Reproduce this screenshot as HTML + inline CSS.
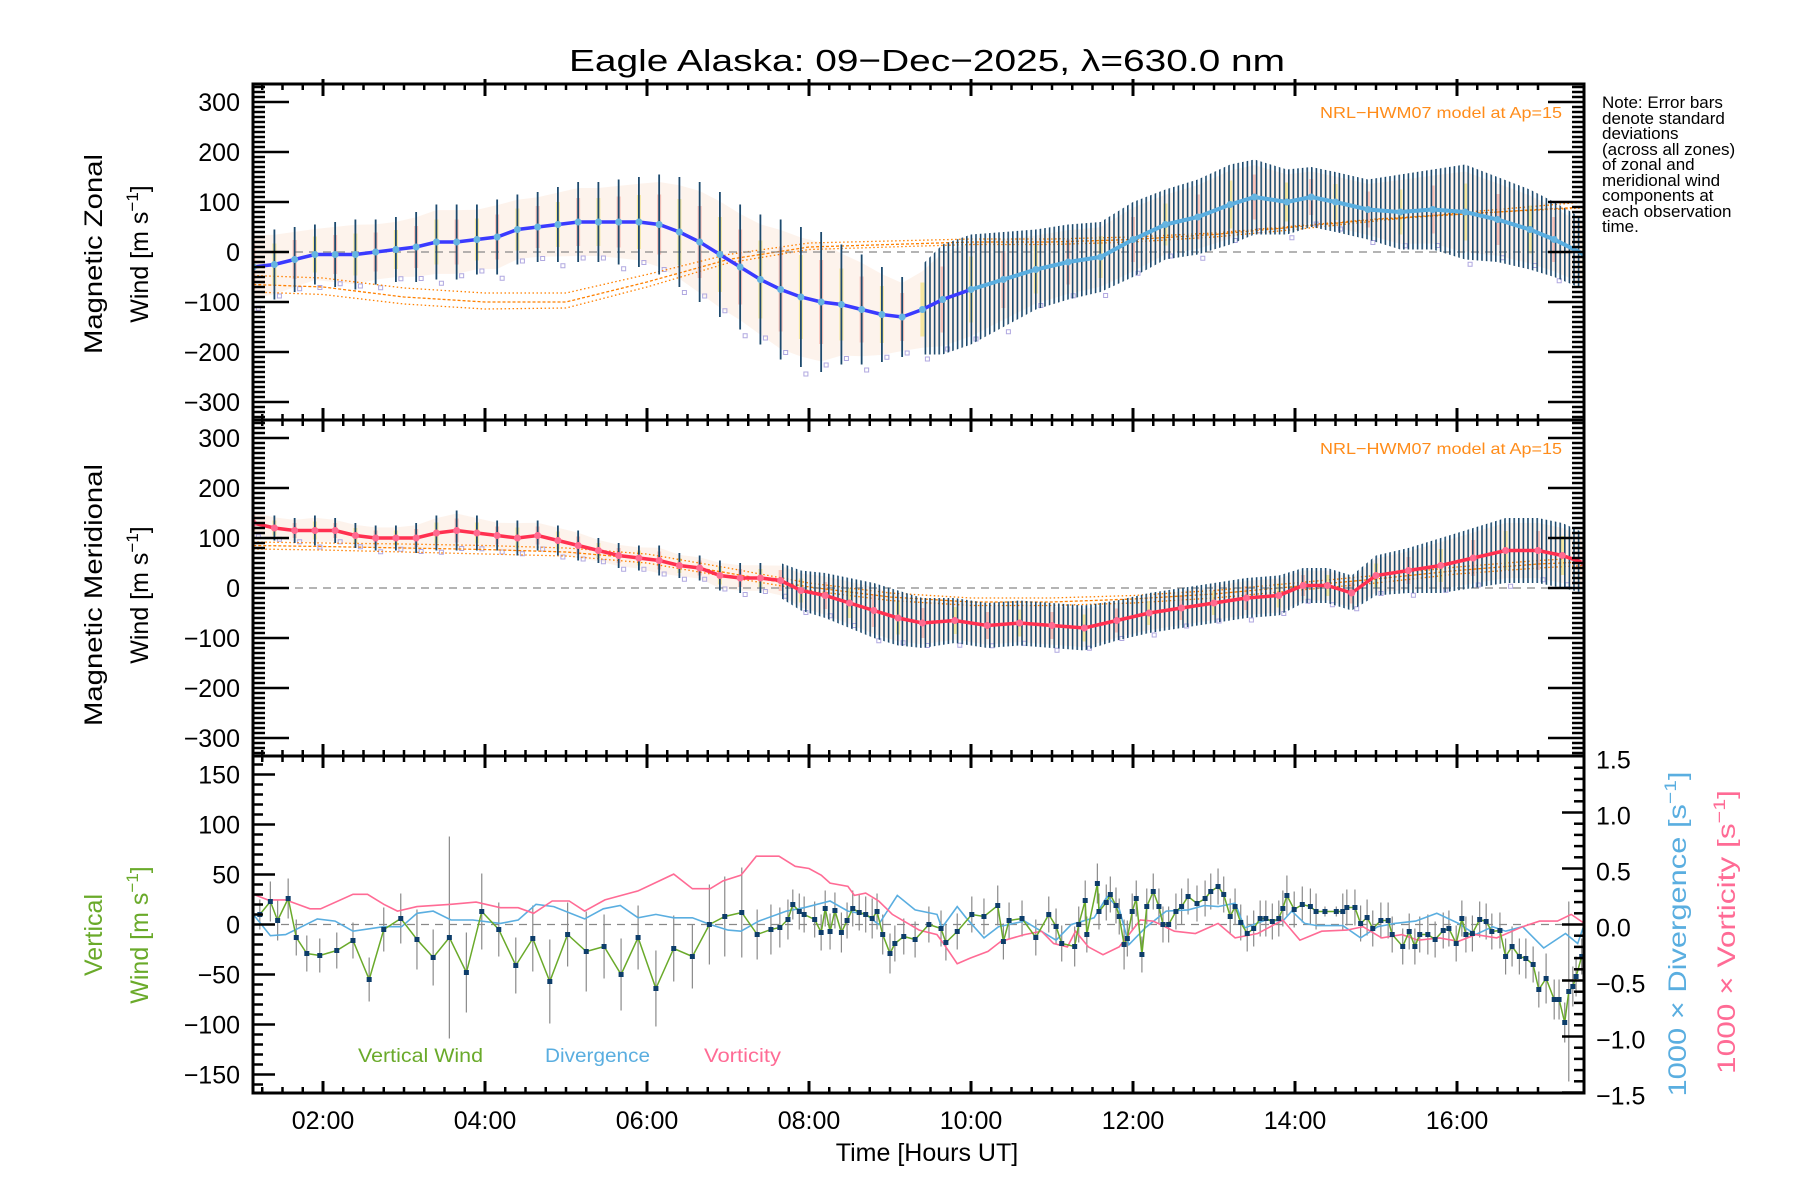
<!DOCTYPE html>
<html><head><meta charset="utf-8"><title>Eagle Alaska winds</title>
<style>html,body{margin:0;padding:0;background:#fff}svg{display:block}text{font-family:"Liberation Sans",sans-serif}</style>
</head><body>
<svg id="chart" xmlns="http://www.w3.org/2000/svg" width="1800" height="1200" viewBox="0 0 1800 1200">
<defs>
<pattern id="stripes" width="4.6" height="10" patternUnits="userSpaceOnUse"><rect x="0" y="0" width="1.6" height="10" fill="#1d4a6e"/></pattern>
<clipPath id="c1"><rect x="253" y="84" width="1331" height="336"/></clipPath>
<clipPath id="c2"><rect x="253" y="420" width="1331" height="336"/></clipPath>
<clipPath id="c3"><rect x="253" y="756" width="1331" height="337"/></clipPath>
</defs>
<rect width="1800" height="1200" fill="#fff"/>
<text x="927" y="71" font-size="31" text-anchor="middle" textLength="716" lengthAdjust="spacingAndGlyphs">Eagle Alaska: 09−Dec−2025, λ=630.0 nm</text>
<g id="plots"></g>
<g font-size="17">
<text x="1602" y="108">Note: Error bars</text>
<text x="1602" y="124">denote standard</text>
<text x="1602" y="139">deviations</text>
<text x="1602" y="155">(across all zones)</text>
<text x="1602" y="170">of zonal and</text>
<text x="1602" y="186">meridional wind</text>
<text x="1602" y="201">components at</text>
<text x="1602" y="217">each observation</text>
<text x="1602" y="232">time.</text>
</g>
<text x="1562" y="118" font-size="16" fill="#ff8c1a" text-anchor="end" textLength="242" lengthAdjust="spacingAndGlyphs">NRL−HWM07 model at Ap=15</text>
<text x="1562" y="454" font-size="16" fill="#ff8c1a" text-anchor="end" textLength="242" lengthAdjust="spacingAndGlyphs">NRL−HWM07 model at Ap=15</text>
<g font-size="25">
<text transform="translate(102,254) rotate(-90)" text-anchor="middle" textLength="200" lengthAdjust="spacingAndGlyphs">Magnetic Zonal</text>
<text transform="translate(148,254) rotate(-90)" text-anchor="middle">Wind [m s<tspan dy="-10" font-size="17">−1</tspan><tspan dy="10">]</tspan></text>
</g>
<g font-size="25">
<text transform="translate(102,595) rotate(-90)" text-anchor="middle" textLength="262" lengthAdjust="spacingAndGlyphs">Magnetic Meridional</text>
<text transform="translate(148,595) rotate(-90)" text-anchor="middle">Wind [m s<tspan dy="-10" font-size="17">−1</tspan><tspan dy="10">]</tspan></text>
</g>
<g font-size="25" fill="#6aaa2a">
<text transform="translate(102,935) rotate(-90)" text-anchor="middle">Vertical</text>
<text transform="translate(148,935) rotate(-90)" text-anchor="middle">Wind [m s<tspan dy="-10" font-size="17">−1</tspan><tspan dy="10">]</tspan></text>
</g>
<text transform="translate(1686,934) rotate(-90)" font-size="25" fill="#5aaee0" text-anchor="middle" textLength="325" lengthAdjust="spacingAndGlyphs">1000 × Divergence [s<tspan dy="-10" font-size="17">−1</tspan><tspan dy="10">]</tspan></text>
<text transform="translate(1735,932) rotate(-90)" font-size="25" fill="#ff6b95" text-anchor="middle" textLength="284" lengthAdjust="spacingAndGlyphs">1000 × Vorticity [s<tspan dy="-10" font-size="17">−1</tspan><tspan dy="10">]</tspan></text>
<text x="927" y="1161" font-size="25" text-anchor="middle">Time [Hours UT]</text>
<g font-size="19">
<text x="358" y="1062" fill="#6aaa2a" textLength="125" lengthAdjust="spacingAndGlyphs">Vertical Wind</text>
<text x="545" y="1062" fill="#5aaee0" textLength="105" lengthAdjust="spacingAndGlyphs">Divergence</text>
<text x="704" y="1062" fill="#ff6b95" textLength="77" lengthAdjust="spacingAndGlyphs">Vorticity</text>
</g>
</svg>
<script>
// ---- Panel 1: magnetic zonal wind ----
const zTime=[1.14,1.4,1.65,1.9,2.15,2.4,2.65,2.9,3.15,3.4,3.65,3.9,4.15,4.4,4.65,4.9,5.15,5.4,5.65,5.9,6.15,6.4,6.65,6.9,7.15,7.4,7.65,7.9,8.15,8.4,8.65,8.9,9.15,9.4,9.65,10.0,10.4,10.8,11.2,11.6,12.0,12.4,12.8,13.2,13.5,13.9,14.2,14.5,14.9,15.3,15.7,16.1,16.5,16.9,17.2,17.57];
const zMean=[-30,-25,-15,-5,-5,-5,0,5,10,20,20,25,30,45,50,55,60,60,60,60,55,40,20,-5,-30,-55,-75,-90,-100,-105,-115,-125,-130,-115,-95,-75,-55,-35,-20,-10,25,55,70,95,110,100,110,100,85,80,85,80,65,45,25,-5];
const zSig=[75,70,65,60,65,70,65,65,70,75,75,70,75,70,70,75,80,80,85,90,100,110,120,125,125,130,140,140,140,120,110,95,80,90,110,110,95,80,75,70,75,70,75,80,75,65,60,60,60,75,80,95,85,80,75,70];
const modelTime=[1.14,2,3,4,5,6,7,8,9,10,11,12,13,14,15,16,17,17.57];
const zModel220=[-47,-52,-72,-82,-82,-45,-5,18,22,26,26,30,38,52,66,76,84,88];
const zModel240=[-65,-70,-90,-100,-100,-60,-15,10,15,20,20,25,35,50,65,75,85,90];
const zModel260=[-80,-85,-104,-114,-112,-70,-22,5,10,15,15,20,30,45,62,78,92,100];
// ---- Panel 2: magnetic meridional wind ----
const mTime=[1.14,1.4,1.65,1.9,2.15,2.4,2.65,2.9,3.15,3.4,3.65,3.9,4.15,4.4,4.65,4.9,5.15,5.4,5.65,5.9,6.15,6.4,6.65,6.9,7.15,7.4,7.65,7.9,8.2,8.5,8.8,9.1,9.4,9.8,10.2,10.6,11.0,11.4,11.8,12.2,12.6,13.0,13.4,13.8,14.1,14.4,14.7,15.0,15.4,15.8,16.2,16.6,17.0,17.3,17.57];
const mMean=[130,120,115,115,115,105,100,100,100,110,115,110,105,100,105,95,85,75,65,60,55,45,40,25,20,20,15,-5,-15,-30,-45,-60,-70,-65,-75,-70,-75,-80,-65,-50,-40,-30,-20,-15,5,5,-10,25,35,45,60,75,75,65,50];
const mSig=[25,25,25,30,25,25,25,25,30,35,40,35,30,35,30,30,30,25,25,25,30,25,25,30,30,30,35,40,45,50,55,55,50,45,45,45,45,45,40,40,40,40,40,40,35,35,35,40,45,55,60,65,65,65,60];
const mModel220=[92,90,88,85,80,68,40,10,-10,-20,-20,-15,-5,10,25,42,55,60];
const mModel240=[85,83,80,77,72,58,30,2,-18,-28,-28,-22,-12,3,18,35,48,52];
const mModel260=[78,76,72,68,64,50,22,-5,-25,-35,-35,-30,-20,-5,10,28,40,45];
// ---- Panel 3: vertical wind, divergence, vorticity ----
const vwTime=[1.22,1.35,1.44,1.57,1.67,1.80,1.96,2.17,2.37,2.57,2.75,2.96,3.16,3.36,3.56,3.77,3.96,4.17,4.38,4.59,4.80,5.02,5.25,5.47,5.68,5.89,6.11,6.33,6.56,6.77,6.96,7.17,7.36,7.53,7.64,7.74,7.80,7.88,7.94,8.07,8.15,8.20,8.26,8.32,8.40,8.47,8.54,8.62,8.70,8.78,8.84,8.91,9.00,9.06,9.17,9.31,9.48,9.63,9.69,9.83,10.01,10.16,10.33,10.40,10.47,10.63,10.80,10.96,11.05,11.12,11.28,11.33,11.41,11.43,11.56,11.58,11.67,11.72,11.79,11.83,11.89,11.93,11.99,12.04,12.11,12.17,12.25,12.32,12.37,12.44,12.53,12.60,12.68,12.79,12.89,12.96,13.05,13.12,13.20,13.26,13.33,13.41,13.49,13.57,13.64,13.72,13.80,13.85,13.90,13.99,14.09,14.19,14.26,14.37,14.51,14.59,14.64,14.74,14.81,14.89,14.96,15.06,15.15,15.20,15.33,15.41,15.48,15.54,15.64,15.73,15.83,15.90,15.99,16.06,16.11,16.19,16.28,16.36,16.43,16.53,16.60,16.68,16.77,16.85,16.94,17.01,17.10,17.20,17.26,17.33,17.38,17.43,17.47,17.54];
const vwVal=[10,23,4,26,-13,-29,-31,-26,-16,-55,-5,6,-15,-33,-13,-48,13,-5,-41,-14,-57,-10,-27,-22,-50,-13,-64,-24,-32,0,8,12,-10,-5,-3,5,20,13,10,5,-8,16,-7,14,-8,4,16,12,10,6,13,-10,-29,-19,-12,-15,0,-4,-18,-7,10,8,19,-17,4,6,-13,10,-2,-19,-22,0,24,-10,41,13,22,30,19,8,-20,-14,13,26,-30,18,33,18,0,0,13,18,28,21,26,33,38,30,8,18,2,-9,-4,6,6,3,6,16,29,15,20,18,13,13,13,13,17,17,1,7,-4,4,4,-10,-22,-7,-22,-10,-10,-15,-6,-4,-19,6,-10,-9,5,3,-7,-6,-32,-22,-32,-34,-40,-65,-54,-75,-75,-98,-67,-62,-52,-32];
const vwSig=[15,20,20,20,18,18,17,18,18,22,22,25,30,28,101,40,38,27,28,33,42,32,40,32,36,32,38,33,32,40,40,45,25,25,20,20,15,18,18,18,18,18,18,18,20,18,18,18,18,20,18,20,20,18,18,18,18,18,18,18,18,18,20,18,18,18,18,18,18,18,20,18,20,18,20,18,18,18,18,18,25,18,18,18,18,18,18,18,18,18,18,18,18,18,18,18,18,18,18,18,18,18,18,18,18,18,18,18,20,18,18,18,18,5,5,18,18,18,18,18,18,18,18,18,18,18,18,18,20,18,18,18,18,18,18,18,18,18,18,18,18,20,18,20,18,18,25,20,20,20,90,20,20,18,18];
const divTime=[1.14,1.35,1.54,1.93,2.15,2.37,2.75,2.97,3.16,3.36,3.58,3.85,4.19,4.41,4.63,4.85,5.23,5.46,5.67,5.89,6.11,6.33,6.56,6.78,7.00,7.16,7.38,7.72,7.94,8.26,8.48,8.70,8.86,9.09,9.31,9.58,9.64,9.83,9.94,10.16,10.34,10.66,11.05,11.24,11.52,11.68,11.83,11.95,12.15,12.41,12.68,12.88,13.05,13.26,13.38,13.64,13.85,13.96,14.12,14.27,14.59,14.81,15.02,15.23,15.49,15.75,16.02,16.23,16.44,16.60,16.81,17.07,17.34,17.49,17.57];
const divVal=[0.09,-0.1,-0.09,0.05,0.03,-0.06,-0.02,-0.02,0.1,0.12,0.04,0.04,0.01,0.04,0.18,0.16,0.05,0.14,0.17,0.06,0.09,0.06,0.06,0,-0.05,-0.06,0.03,0.12,0.15,0.21,0.12,0.09,0,0.26,0.13,0.09,-0.03,0.16,0.06,-0.12,-0.02,0.03,-0.14,0,0.06,0.25,0.14,-0.18,-0.03,0.12,0.13,0.17,0.16,0.19,-0.03,0.04,0.03,0.12,0.01,-0.01,-0.01,-0.12,-0.02,0.01,0.03,0.1,0.01,-0.09,-0.02,-0.06,-0.02,-0.21,-0.08,-0.17,0];
const vorTime=[1.14,1.32,1.54,1.84,1.97,2.37,2.55,2.75,2.92,3.16,3.58,3.89,4.19,4.41,4.60,4.83,5.04,5.23,5.48,5.89,6.33,6.56,6.78,6.94,7.16,7.35,7.63,7.83,8.00,8.15,8.26,8.48,8.56,8.70,8.86,9.03,9.17,9.36,9.58,9.67,9.83,9.99,10.21,10.37,10.66,10.87,11.02,11.19,11.29,11.45,11.63,11.83,11.95,12.09,12.25,12.51,12.77,13.05,13.26,13.54,13.85,14.06,14.33,14.64,14.84,15.07,15.32,15.52,15.78,16.02,16.23,16.49,16.81,17.02,17.24,17.41,17.57];
const vorVal=[0.27,0.22,0.22,0.14,0.14,0.27,0.27,0.18,0.12,0.16,0.18,0.2,0.15,0.15,0.1,0.21,0.21,0.12,0.22,0.3,0.45,0.32,0.32,0.39,0.44,0.61,0.61,0.52,0.5,0.44,0.37,0.34,0.26,0.28,0.21,0.09,0.03,-0.05,-0.09,-0.18,-0.35,-0.3,-0.24,-0.15,-0.09,-0.06,-0.17,-0.2,-0.06,-0.2,-0.27,-0.2,-0.09,0.04,0.03,-0.06,-0.08,0.01,-0.12,-0.08,0.04,-0.14,-0.06,-0.05,-0.02,-0.12,-0.09,-0.14,-0.12,-0.15,-0.09,-0.12,-0.02,0.03,0.03,0.09,0.01];
const xTickLabels=["02:00","04:00","06:00","08:00","10:00","12:00","14:00","16:00"];
const xTickHours=[2,4,6,8,10,12,14,16];
const yTicks12=[-300,-200,-100,0,100,200,300];
const yTicks3=[-150,-100,-50,0,50,100,150];
const rTicks3=[-1.5,-1.0,-0.5,0.0,0.5,1.0,1.5];

const NS="http://www.w3.org/2000/svg";
const L=253,R=1584;
const P=[{top:84,bot:420,c:"c1"},{top:420,bot:756,c:"c2"},{top:756,bot:1093,c:"c3"}];
function x(t){return 323+(t-2)*81;}
function y1(v){return 252-v*0.5;}
function y2(v){return 588-v*0.5;}
function y3(v){return 924.5-v;}
function y3r(d){return 924.5-d*112;}
const root=document.getElementById("plots");
function mk(tag,attrs,parent){const e=document.createElementNS(NS,tag);for(const k in attrs)e.setAttribute(k,attrs[k]);(parent||root).appendChild(e);return e;}
function pts(ts,vs,yf){return ts.map((t,i)=>x(t).toFixed(1)+","+yf(vs[i]).toFixed(1)).join(" ");}

function barPanel(ts,ms,ss,yf,clip,denseFrom,lineCols,split,dotCol,mods,name){
  const g=mk("g",{"clip-path":"url(#"+clip+")"});
  
  
  const up=[],dn=[];
  ts.forEach((t,i)=>{up.push(x(t).toFixed(1)+","+yf(ms[i]+ss[i]*0.85).toFixed(1));dn.unshift(x(t).toFixed(1)+","+yf(ms[i]-ss[i]*0.85).toFixed(1));});
  const band=mk("polygon",{points:up.concat(dn).join(" "),fill:"#fbe0cf",opacity:"0.4"},g);
  
  
  ts.forEach((t,i)=>{
    const s=mk("rect",{x:x(t)-2,y:yf(ms[i]+ss[i]*0.6),width:4,height:ss[i]*0.6,fill:i%2?"#f6e7a0":"#f9c2b8"},g);
    
    
    const q=mk("rect",{x:x(t)+3,y:yf(ms[i]-ss[i]*(i%3?0.9:1.1))-2,width:4,height:4,fill:"none",stroke:"#b0a8e0","stroke-width":1},g);
    
    
  });
  mods.forEach((arr,k)=>{
    const ml=mk("polyline",{points:pts(modelTime,arr,yf),fill:"none",stroke:"#ff8000","stroke-width":1.3,"stroke-dasharray":k==1?"3,2":"1.5,2.5"},g);
    
    
  });
  const z=mk("line",{x1:L,x2:R,y1:yf(0),y2:yf(0),stroke:"#888","stroke-width":1.2,"stroke-dasharray":"8,6"},g);
  
  
  const du=[],dd=[];
  ts.forEach((t,i)=>{if(t>=denseFrom){du.push(x(t).toFixed(1)+","+yf(ms[i]+ss[i]).toFixed(1));dd.unshift(x(t).toFixed(1)+","+yf(ms[i]-ss[i]).toFixed(1));}});
  const db=mk("polygon",{points:du.concat(dd).join(" "),fill:"url(#stripes)"},g);
  
  
  ts.forEach((t,i)=>{ if(t<denseFrom){
    const b=mk("line",{x1:x(t),x2:x(t),y1:yf(ms[i]+ss[i]),y2:yf(ms[i]-ss[i]),stroke:"#1d4a6e","stroke-width":1.8},g);
    
    
  }});
  const ia=ts.filter(t=>t<=split).length;
  const l1=mk("polyline",{points:pts(ts.slice(0,ia+1),ms.slice(0,ia+1),yf),fill:"none",stroke:lineCols[0],"stroke-width":3.5},g);
  
  
  const l2=mk("polyline",{points:pts(ts.slice(ia),ms.slice(ia),yf),fill:"none",stroke:lineCols[1],"stroke-width":4},g);
  
  
  ts.forEach((t,i)=>{
    const d=mk("circle",{cx:x(t),cy:yf(ms[i]),r:3.5,fill:dotCol},g);
    
    
  });
}
barPanel(zTime,zMean,zSig,y1,"c1",9.4,["#3a3aff","#5aaee0"],9.65,"#66b4e0",[zModel220,zModel240,zModel260],"zonal");
barPanel(mTime,mMean,mSig,y2,"c2",7.5,["#ff3050","#ff3a5c"],20,"#ff6a90",[mModel220,mModel240,mModel260],"meridional");

const g3=mk("g",{"clip-path":"url(#c3)"});


const z3=mk("line",{x1:L,x2:R,y1:y3(0),y2:y3(0),stroke:"#888","stroke-width":1.2,"stroke-dasharray":"8,6"},g3);


vwTime.forEach((t,i)=>{
  const b=mk("line",{x1:x(t),x2:x(t),y1:y3(vwVal[i]+vwSig[i]),y2:y3(vwVal[i]-vwSig[i]),stroke:"#8a8a8a","stroke-width":1.2},g3);
  
  
});
const dl=mk("polyline",{points:pts(divTime,divVal,y3r),fill:"none",stroke:"#5aaee0","stroke-width":1.6},g3);


const vl=mk("polyline",{points:pts(vorTime,vorVal,y3r),fill:"none",stroke:"#ff6b95","stroke-width":1.6},g3);


const wl=mk("polyline",{points:pts(vwTime,vwVal,y3),fill:"none",stroke:"#6aaa2a","stroke-width":1.5},g3);


vwTime.forEach((t,i)=>{
  const p=mk("rect",{x:x(t)-2.5,y:y3(vwVal[i])-2.5,width:5,height:5,fill:"#0d3d6a"},g3);
  
  
});

const ax=mk("g",{});


P.forEach((p,k)=>{
  const fr=mk("rect",{x:L,y:p.top,width:R-L,height:p.bot-p.top,fill:"none",stroke:"#000","stroke-width":3},ax);
  
  
  for(let m=0;m<=63;m++){const t=1.25+m*0.25;if(t>17.57)break;const maj=Math.abs(t-Math.round(t/2)*2)<1e-6;const len=maj?12:6;
    mk("line",{x1:x(t),x2:x(t),y1:p.top,y2:p.top+len,stroke:"#000","stroke-width":maj?3:2.5},ax);
    mk("line",{x1:x(t),x2:x(t),y1:p.bot,y2:p.bot-len,stroke:"#000","stroke-width":maj?3:2.5},ax);
    if(maj){mk("line",{x1:x(t),x2:x(t),y1:p.top-5,y2:p.top+5,stroke:"#000","stroke-width":3},ax);}
  }
});
[[y1,84,420],[y2,420,756]].forEach(([yf,tp,bt],k)=>{
  for(let v=-330;v<=330;v+=10){const yy=yf(v);if(yy<tp+1||yy>bt-1)continue;const maj=v%100===0;const len=maj?36:12;
    mk("line",{x1:L,x2:L+len,y1:yy,y2:yy,stroke:"#000","stroke-width":2.5},ax);
    mk("line",{x1:R,x2:R-len,y1:yy,y2:yy,stroke:"#000","stroke-width":2.5},ax);}
  yTicks12.forEach(v=>{const t=mk("text",{x:240,y:yf(v)+9,"font-size":25,"text-anchor":"end"},ax);t.textContent=(v<0?"−":"")+Math.abs(v);
    
    });
});
for(let v=-160;v<=160;v+=10){const yy=y3(v);const maj=v%50===0;const len=maj?22:10;
  mk("line",{x1:L,x2:L+len,y1:yy,y2:yy,stroke:"#000","stroke-width":2.5},ax);}
yTicks3.forEach(v=>{const t=mk("text",{x:240,y:y3(v)+9,"font-size":25,"text-anchor":"end"},ax);t.textContent=(v<0?"−":"")+Math.abs(v);
  
  });
for(let k=-15;k<=15;k++){const d=k/10;const yy=y3r(d);if(yy<757||yy>1093)continue;const maj=k%5===0;const len=maj?22:10;
  mk("line",{x1:R,x2:R-len,y1:yy,y2:yy,stroke:"#000","stroke-width":2.5},ax);}
rTicks3.forEach(v=>{const t=mk("text",{x:1596,y:y3r(v)+12,"font-size":25,"text-anchor":"start"},ax);t.textContent=(v<0?"−":"")+Math.abs(v).toFixed(1);
  
  });
xTickHours.forEach((h,i)=>{const t=mk("text",{x:x(h),y:1129,"font-size":25,"text-anchor":"middle"},ax);t.textContent=xTickLabels[i];
  
  });
</script>
</body></html>
